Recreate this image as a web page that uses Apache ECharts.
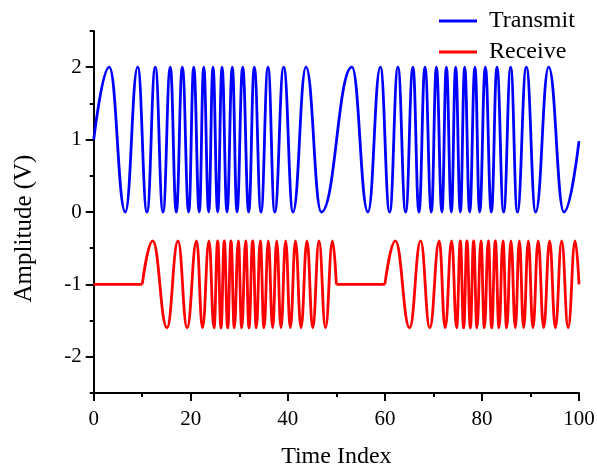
<!DOCTYPE html>
<html><head><meta charset="utf-8">
<script src="https://cdn.jsdelivr.net/npm/echarts@6/dist/echarts.min.js"></script>
<style>html,body{margin:0;padding:0;background:#fff}#c{width:597px;height:471px}</style>
</head><body><div id="c"></div>
<script>
// ---- data (extrema of the signals) ----
const xTicks = [0, 20, 40, 60, 80, 100];
const yMajorTicks = [-2, -1, 0, 1, 2];

const transmitPart1 = [[0,1],[3.21,2],[6.51,0],[9.07,2],[10.98,0],[12.69,2],[14.28,0],[15.78,2],[17.02,0],[18.26,2],[19.58,0],[20.61,2],[21.76,0],[22.67,2],[23.70,0],[24.58,2],[25.55,0],[26.44,2],[27.47,0],[28.56,2],[29.53,0],[30.70,2],[31.94,0],[33.09,2],[34.47,0],[35.92,2],[37.30,0],[39.15,2],[41.07,0],[43.75,2],[46.90,0]];
const transmitPart2 = [[53.21,2],[56.51,0],[59.07,2],[60.98,0],[62.69,2],[64.28,0],[65.78,2],[67.02,0],[68.26,2],[69.58,0],[70.61,2],[71.76,0],[72.67,2],[73.70,0],[74.58,2],[75.55,0],[76.44,2],[77.47,0],[78.56,2],[79.53,0],[80.70,2],[81.94,0],[83.09,2],[84.47,0],[85.92,2],[87.30,0],[89.15,2],[91.07,0],[93.75,2],[96.90,0],[100,0.98]];

const receiveIdle1 = [[0,-1],[10,-1]];
const receiveChirp1 = [[10,-1],[12.16,-0.4],[15.10,-1.6],[17.37,-0.4],[19.25,-1.6],[21.2,-0.4],[22.42,-1.6],[23.76,-0.4],[24.79,-1.6],[25.55,-0.4],[26.23,-1.6],[26.91,-0.4],[27.61,-1.6],[28.29,-0.4],[28.97,-1.6],[29.80,-0.4],[30.50,-1.6],[31.32,-0.4],[32.00,-1.6],[32.76,-0.4],[33.51,-1.6],[34.33,-0.4],[35.09,-1.6],[35.98,-0.4],[36.88,-1.6],[37.71,-0.4],[38.59,-1.6],[39.56,-0.4],[40.51,-1.6],[41.58,-0.4],[42.72,-1.6],[43.95,-0.4],[45.13,-1.6],[46.43,-0.4],[47.76,-1.6],[49.21,-0.4],[50,-1]];
const receiveIdle2 = [[50,-1],[60,-1]];
const receiveChirp2 = [[60,-1],[62.16,-0.4],[65.10,-1.6],[67.37,-0.4],[69.25,-1.6],[71.2,-0.4],[72.42,-1.6],[73.76,-0.4],[74.79,-1.6],[75.55,-0.4],[76.23,-1.6],[76.91,-0.4],[77.61,-1.6],[78.29,-0.4],[78.97,-1.6],[79.80,-0.4],[80.50,-1.6],[81.32,-0.4],[82.00,-1.6],[82.76,-0.4],[83.51,-1.6],[84.33,-0.4],[85.09,-1.6],[85.98,-0.4],[86.88,-1.6],[87.71,-0.4],[88.59,-1.6],[89.56,-0.4],[90.51,-1.6],[91.58,-0.4],[92.72,-1.6],[93.95,-0.4],[95.13,-1.6],[96.43,-0.4],[97.76,-1.6],[99.21,-0.4],[100,-1]];

// ---- chart ----
const FONT = 'Liberation Serif';
const BLUE = '#0000ff', RED = '#ff0000';
const axisLineStyle = { color: '#000', width: 2 };
const LW = 2.8;

function chirpSeries(name, data, color) {
  return {
    name: name, type: 'line', data: data, xAxisIndex: 0, yAxisIndex: 0,
    smooth: 0.45, smoothMonotone: 'x', symbol: 'none', showSymbol: false,
    lineStyle: { color: color, width: LW }, itemStyle: { color: color },
    z: 3
  };
}
function flatSeries(name, data, color) {
  return {
    name: name, type: 'line', data: data, xAxisIndex: 0, yAxisIndex: 0,
    smooth: false, symbol: 'none', showSymbol: false,
    lineStyle: { color: color, width: LW }, itemStyle: { color: color },
    z: 3
  };
}

const chart = echarts.init(document.getElementById('c'), null, { renderer: 'canvas' });
chart.setOption({
  animation: false,
  backgroundColor: '#fff',
  textStyle: { fontFamily: FONT },
  grid: { left: 93.7, right: 18, top: 31, bottom: 78, containLabel: false, outerBoundsMode: 'none' },
  legend: {
    data: ['Transmit', 'Receive'],
    orient: 'vertical', left: 434, top: 4, padding: 5,
    icon: 'rect', itemWidth: 38, itemHeight: 3, itemGap: 7,
    textStyle: { fontFamily: FONT, fontSize: 24, color: '#000', padding: [0, 0, 0, 7] }
  },
  xAxis: {
    type: 'value', min: xTicks[0], max: xTicks[xTicks.length - 1], interval: xTicks[1] - xTicks[0],
    axisLine: { show: true, onZero: false, lineStyle: axisLineStyle },
    axisTick: { show: true, length: 8, lineStyle: axisLineStyle },
    minorTick: { show: true, splitNumber: 2, length: 4, lineStyle: axisLineStyle },
    axisLabel: { fontFamily: FONT, fontSize: 21, color: '#000', margin: 16 },
    splitLine: { show: false }, minorSplitLine: { show: false },
    name: 'Time Index', nameLocation: 'middle', nameGap: 52,
    nameTextStyle: { fontFamily: FONT, fontSize: 24, color: '#000' }
  },
  yAxis: [
    {
      type: 'value', min: -2.5, max: 2.5, interval: 0.5, position: 'left',
      axisLine: { show: true, onZero: false, lineStyle: axisLineStyle },
      axisTick: { show: true, length: 4, lineStyle: axisLineStyle },
      axisLabel: { show: false },
      splitLine: { show: false }
    },
    {
      type: 'value', min: -2.5, max: 2.5, position: 'left', offset: 0,
      axisLine: { show: false, onZero: false },
      axisTick: { show: true, length: 8, lineStyle: axisLineStyle, customValues: yMajorTicks },
      axisLabel: { show: true, customValues: yMajorTicks, fontFamily: FONT, fontSize: 21, color: '#000', margin: 12 },
      splitLine: { show: false },
      name: 'Amplitude (V)', nameLocation: 'middle', nameGap: 57,
      nameTextStyle: { fontFamily: FONT, fontSize: 25, color: '#000', padding: [0, 33, 0, 0] }
    }
  ],
  series: [
    chirpSeries('Transmit', transmitPart1.concat(transmitPart2), BLUE),
    flatSeries('Receive', receiveIdle1, RED),
    chirpSeries('Receive', receiveChirp1, RED),
    flatSeries('Receive', receiveIdle2, RED),
    chirpSeries('Receive', receiveChirp2, RED)
  ]
});
</script>
</body></html>
